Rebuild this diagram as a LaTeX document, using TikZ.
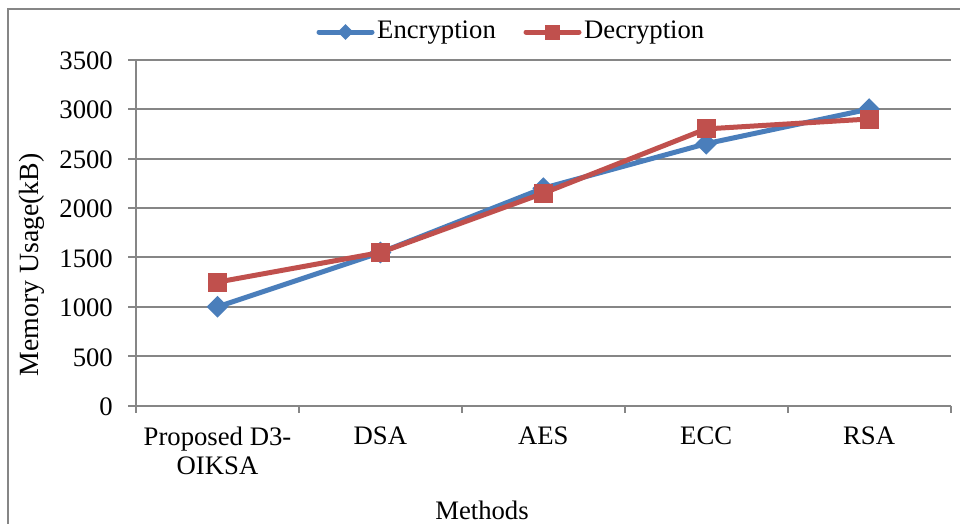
\documentclass[tikz,border=0pt]{standalone}
\usepackage{fontspec}
\setmainfont{Liberation Serif}
\usetikzlibrary{shapes.geometric}
\definecolor{encblue}{RGB}{74,126,187}
\definecolor{decred}{RGB}{192,80,77}
\definecolor{gridgray}{RGB}{134,134,134}
\tikzset{
  lbl/.style={font=\fontsize{26.7}{31}\selectfont, inner sep=0pt},
  gridline/.style={draw=gridgray, line width=2pt},
  encline/.style={draw=encblue, line width=5pt, line cap=round, line join=round},
  decline/.style={draw=decred, line width=5pt, line cap=round, line join=round},
  encmark/.style={diamond, fill=encblue, inner sep=0pt, minimum width=22pt, minimum height=22pt},
  decmark/.style={rectangle, fill=decred, inner sep=0pt, minimum size=19pt},
  encleg/.style={diamond, fill=encblue, inner sep=0pt, minimum width=16pt, minimum height=16pt},
  decleg/.style={rectangle, fill=decred, inner sep=0pt, minimum size=15pt},
}
\begin{document}
\begin{tikzpicture}[x=1pt, y=-1pt]
\useasboundingbox (0,0) rectangle (960,523);
\clip (0,0) rectangle (960,523);
\fill[white] (0,0) rectangle (960,523);
% frame
\draw[gridgray, line width=2pt] (7.5,8.5) rectangle (975,540);
% gridlines and y labels
\foreach \k/\v in {0/0,1/500,2/1000,3/1500,4/2000,5/2500,6/3000,7/3500}{
  \pgfmathsetmacro{\yy}{405.7-\k*49.43}
  \draw[gridline] (128,\yy) -- (950.7,\yy);
  \node[lbl, anchor=east] (y\k) at (113,\yy+1) {\v};
}
% y axis
\draw[gridline] (136,59.7) -- (136,405.7);
% x ticks
\foreach \i in {0,...,5}{
  \pgfmathsetmacro{\xx}{136+\i*162.94}
  \draw[gridline] (\xx,405.7) -- (\xx,413);
}
% x labels
\node[lbl, align=center, anchor=north] (c1) at (217.5,427) {Proposed D3-\\[-2pt]OIKSA};
\node[lbl, anchor=north] (c2) at (380.4,427) {DSA};
\node[lbl, anchor=north] (c3) at (543.3,427) {AES};
\node[lbl, anchor=north] (c4) at (706.2,427) {ECC};
\node[lbl, anchor=north] (c5) at (869.1,427) {RSA};
% axis titles
\node[lbl, font=\fontsize{27.8}{31}\selectfont, rotate=90] (ytitle) at (32,265) {Memory Usage(kB)};
\node[lbl] (xtitle) at (482,510) {Methods};
% data points
\coordinate (e1) at (217.5,306.8);
\coordinate (e2) at (380.4,252.5);
\coordinate (e3) at (543.3,188.2);
\coordinate (e4) at (706.2,143.7);
\coordinate (e5) at (869.1,109.1);
\coordinate (d1) at (217.5,282.1);
\coordinate (d2) at (380.4,252.5);
\coordinate (d3) at (543.3,193.2);
\coordinate (d4) at (706.2,128.9);
\coordinate (d5) at (869.1,119.0);
\draw[encline] (e1) -- (e2) -- (e3) -- (e4) -- (e5);
\foreach \i in {1,...,5}{\node[encmark] (em\i) at (e\i) {};}
\draw[decline] (d1) -- (d2) -- (d3) -- (d4) -- (d5);
\foreach \i in {1,...,5}{\node[decmark] (dm\i) at (d\i) {};}
% legend
\coordinate (la1) at (319,32);
\coordinate (la2) at (372,32);
\draw[encline] (la1) -- (la2);
\node[encleg] (lem) at (345.5,32) {};
\node[lbl, anchor=west] (lenc) at (377,33) {Encryption};
\coordinate (lb1) at (526,32);
\coordinate (lb2) at (579,32);
\draw[decline] (lb1) -- (lb2);
\node[decleg] (ldm) at (552.5,32) {};
\node[lbl, anchor=west] (ldec) at (584,33) {Decryption};
\end{tikzpicture}
\end{document}
